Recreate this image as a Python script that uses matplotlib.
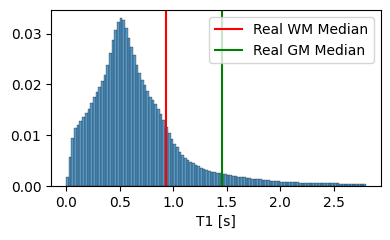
import numpy as np
import pandas as pd
import matplotlib
matplotlib.use("Agg")
import matplotlib.pyplot as plt
import seaborn as sns

# histogram bins of T1 (s), width 0.025, density values
bin_edges = np.linspace(0.0, 2.8, 113)
density = [
    0.0017, 0.0058, 0.0095, 0.0115, 0.0121, 0.0128, 0.0135, 0.0143, 0.0152, 0.0163,
    0.0175, 0.0186, 0.0195, 0.0207, 0.0219, 0.0238, 0.0262, 0.0287, 0.0307, 0.0324,
    0.0330, 0.0326, 0.0312, 0.0292, 0.0274, 0.0258, 0.0238, 0.0222, 0.0209, 0.0198,
    0.0188, 0.0176, 0.0169, 0.0161, 0.0152, 0.0142, 0.0130, 0.0117, 0.0104, 0.0092,
    0.0083, 0.0076, 0.0067, 0.0061, 0.0056, 0.0052, 0.0048, 0.0045, 0.0042, 0.0039,
    0.0036, 0.0034, 0.0031, 0.0029, 0.0028, 0.0027, 0.0026, 0.0025, 0.0024, 0.0023,
    0.0022, 0.0021, 0.0020, 0.0019, 0.0018, 0.0017, 0.0017, 0.0016, 0.0015, 0.0014,
    0.0014, 0.0013, 0.0013, 0.0012, 0.0012, 0.0011, 0.0010, 0.0010, 0.0009, 0.0009,
    0.0008, 0.0008, 0.0008, 0.0007, 0.0007, 0.0007, 0.0007, 0.0006, 0.0005, 0.0005,
    0.0005, 0.0005, 0.0005, 0.0005, 0.0005, 0.0005, 0.0005, 0.0005, 0.0005, 0.0005,
    0.0005, 0.0005, 0.0004, 0.0004, 0.0004, 0.0004, 0.0004, 0.0004, 0.0004, 0.0004,
    0.0004, 0.0004,
]
wm_median = 0.93
gm_median = 1.46

df = pd.DataFrame({
    "t1": (bin_edges[:-1] + bin_edges[1:]) / 2,
    "w": density,
})

fig, ax = plt.subplots(figsize=(3.9, 2.4), dpi=100)
fig.subplots_adjust(left=0.131, right=0.977, top=0.958, bottom=0.225)

sns.histplot(data=df, x="t1", weights="w", bins=list(bin_edges), ax=ax)
ax.axvline(wm_median, color="red", label="Real WM Median")
ax.axvline(gm_median, color="green", label="Real GM Median")
ax.set_xlabel("T1 [s]")
ax.set_ylabel("")
ax.legend(loc="upper right")

fig.savefig("out.png", dpi=100)
